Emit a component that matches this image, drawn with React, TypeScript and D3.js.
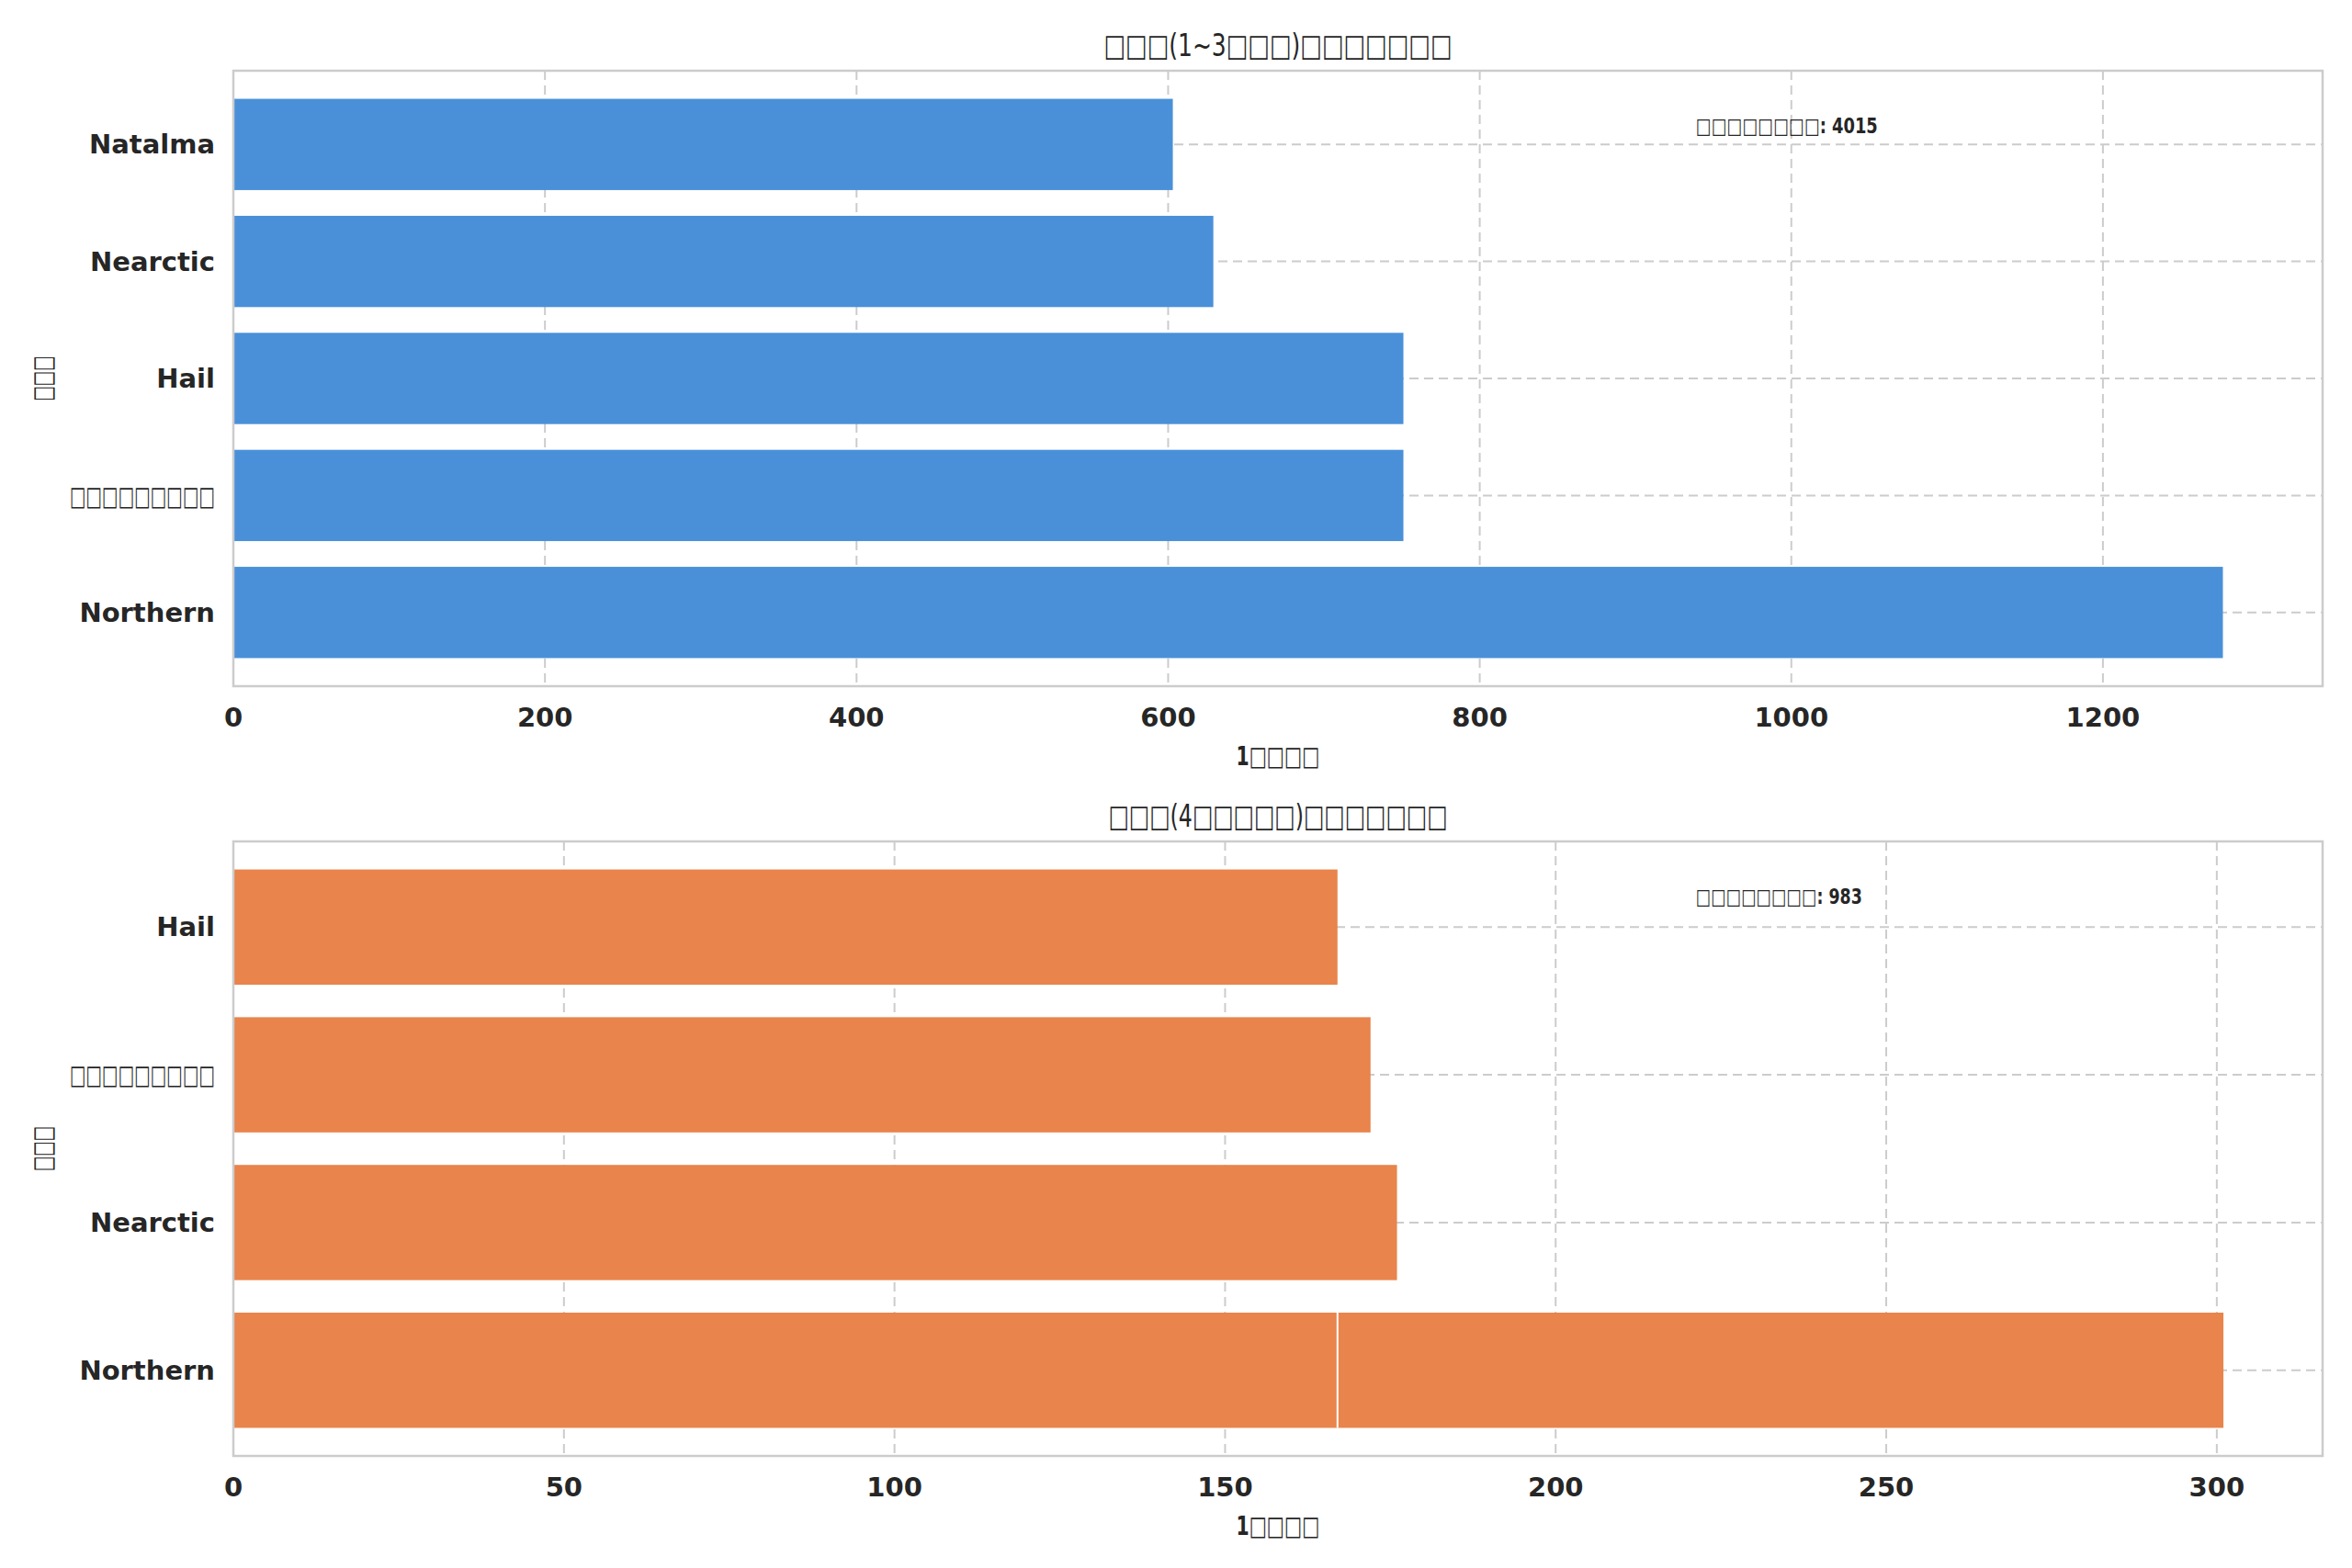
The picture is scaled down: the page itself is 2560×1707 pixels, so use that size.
import React from "react";
import * as d3 from "d3";

const W = 2560, H = 1707;
const topCats = ["Natalma", "Nearctic", "Hail", "□□□□□□□□□", "Northern"];
const topVals = [603, 629, 751, 751, 1277];
const botCats = ["Hail", "□□□□□□□□□", "Nearctic", "Northern"];
const botVals = [167, 172, 176, 301];
const botSplit = [null, null, null, 167];
const topTicks = [0, 200, 400, 600, 800, 1000, 1200];
const botTicks = [0, 50, 100, 150, 200, 250, 300];
const titles = ["□□□(1~3□□□)□□□□□□□", "□□□(4□□□□□)□□□□□□□"];
const notes = ["□□□□□□□□: 4015", "□□□□□□□□: 983"];
const font = "'DejaVu Sans', sans-serif";

function Panel({ top, bottom, cats, vals, ticks, xmax, color, title, note, split, titleLen, noteLen, pOut }: any) {
  const left = 254, right = 2528;
  const x = d3.scaleLinear().domain([0, xmax]).range([left, right]);
  const y = d3.scaleBand().domain(cats).range([top, bottom]).paddingInner(0.22).paddingOuter(pOut);
  return (
    <g>
      <text x={(left + right) / 2} y={top - 16} textAnchor="middle" fontSize={34} fill="#262626" fontFamily={font}
        textLength={titleLen} lengthAdjust="spacingAndGlyphs">{title}</text>
      {ticks.map((t: number) => (
        <line key={t} x1={x(t)} x2={x(t)} y1={top} y2={bottom} stroke="#cccccc" strokeWidth={2} strokeDasharray="10,6" />
      ))}
      {cats.map((c: string) => (
        <line key={c} x1={left} x2={right} y1={y(c)! + y.bandwidth() / 2} y2={y(c)! + y.bandwidth() / 2} stroke="#cccccc" strokeWidth={2} strokeDasharray="10,6" />
      ))}
      {cats.map((c: string, i: number) => {
        const box = c.startsWith("□");
        return (
          <g key={c}>
            <rect x={x(0)} y={y(c)} width={x(vals[i]) - x(0)} height={y.bandwidth()} fill={color} />
            {split && split[i] != null && (
              <line x1={x(split[i])} x2={x(split[i])} y1={y(c)} y2={y(c)! + y.bandwidth()} stroke="#fff" strokeWidth={2} />
            )}
            <text x={left - 20} y={y(c)! + y.bandwidth() / 2} dy="0.35em" textAnchor="end" fontSize={29}
              fontWeight={box ? "normal" : "bold"} fill="#262626" fontFamily={font}
              {...(box ? { textLength: 158, lengthAdjust: "spacingAndGlyphs" } : {})}>{c}</text>
          </g>
        );
      })}
      <rect x={left} y={top} width={right - left} height={bottom - top} fill="none" stroke="#cccccc" strokeWidth={2.5} />
      {ticks.map((t: number) => (
        <text key={t} x={x(t)} y={bottom + 44} textAnchor="middle" fontSize={29} fontWeight="bold" fill="#262626" fontFamily={font}>{t}</text>
      ))}
      <text x={(left + right) / 2} y={bottom + 86} textAnchor="middle" fontSize={29} fontWeight="bold" fill="#262626" fontFamily={font}
        textLength={91} lengthAdjust="spacingAndGlyphs">1□□□□</text>
      <text transform={`translate(56,${(top + bottom) / 2}) rotate(-90)`} textAnchor="middle" fontSize={29} fill="#262626" fontFamily={font}
        textLength={49} lengthAdjust="spacingAndGlyphs">□□□</text>
      <text x={left + 0.7 * (right - left)} y={top + 68} fontSize={23} fontWeight="bold" fill="#262626" fontFamily={font}
        textLength={noteLen} lengthAdjust="spacingAndGlyphs">{note}</text>
    </g>
  );
}

export default function App() {
  return (
    <svg width={W} height={H} style={{ position: "absolute", left: 0, top: 0, background: "#fff" }}>
      <rect width={W} height={H} fill="#fff" />
      <Panel top={77} bottom={747} cats={topCats} vals={topVals} ticks={topTicks} xmax={1341} color="#4A90D9" title={titles[0]} note={notes[0]} titleLen={379} noteLen={198} pOut={0.24} />
      <Panel top={916} bottom={1585} cats={botCats} vals={botVals} ticks={botTicks} xmax={316} color="#E8844C" title={titles[1]} note={notes[1]} split={botSplit} titleLen={369} noteLen={181} pOut={0.19} />
    </svg>
  );
}
